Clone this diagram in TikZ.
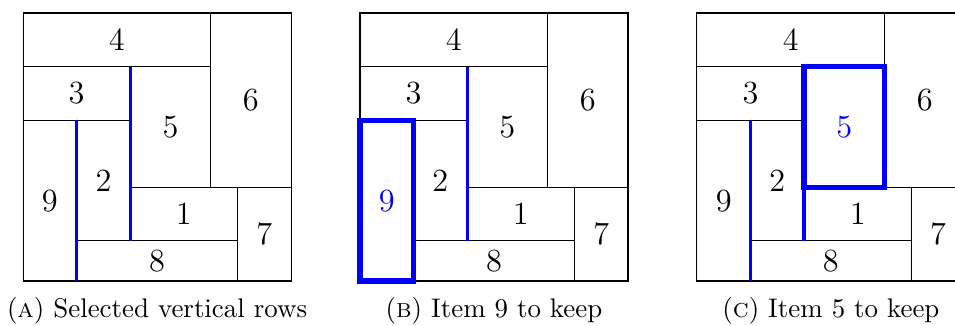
\documentclass[tikz,border=0pt]{standalone}
\usepackage{tikz}
\usetikzlibrary{calc}
\def\pcu{0.35cm}
\tikzset{
  piece/.style={draw=black, line width=0.4pt, inner sep=0pt, outer sep=0pt,
                font=\large},
  row/.style={draw=blue, line width=1.2pt},
  keep/.style={draw=blue, line width=2pt},
  subcap/.style={anchor=base, font=\normalsize},
}
% one packing: #1 = panel name, #2 = item printed in blue (0 for none)
\newcommand{\packing}[2]{%
  \foreach \n/\xa/\ya/\xb/\yb in {4/0/0/7/2, 6/7/0/10/6.5, 3/0/2/4/4, 5/4/2/7/6.5,
      9/0/4/2/10, 2/2/4/4/8.5, 1/4/6.5/8/8.5, 8/2/8.5/8/10, 7/8/6.5/10/10}{
    \ifnum\n=#2\relax\def\txtcol{blue}\else\def\txtcol{black}\fi
    \node[piece, text=\txtcol, minimum width={(\xb-\xa)*\pcu},
          minimum height={(\yb-\ya)*\pcu}] (#1-\n) at ({(\xa+\xb)/2},{(\ya+\yb)/2}) {\n};
  }%
}

\begin{document}
\begin{tikzpicture}[x=\pcu, y=-\pcu]
  \useasboundingbox (0,0) rectangle (35.63,12.16);

  % (a) selected vertical rows
  \begin{scope}[shift={(0.86,0.485)}]
    \packing{A}{0}
    \draw[row] (A-5.north west) -- (A-1.south west);
    \draw[row] (A-2.north west) -- (A-8.south west);
    \node[subcap] (capA) at (5,11.35) {(\textsc{a}) Selected vertical rows};
  \end{scope}

  % (b) item 9 kept
  \begin{scope}[shift={(13.43,0.485)}]
    \packing{B}{9}
    \draw[row] (B-5.north west) -- (B-1.south west);
    \draw[keep] (B-9.north west) rectangle (B-9.south east);
    \node[subcap] (capB) at (5,11.35) {(\textsc{b}) Item 9 to keep};
  \end{scope}

  % (c) item 5 kept
  \begin{scope}[shift={(26.0,0.485)}]
    \packing{C}{5}
    \draw[row] (C-2.north west) -- (C-8.south west);
    \draw[row] (C-5.north west) -- (C-1.south west);
    \draw[keep] (C-5.north west) rectangle (C-5.south east);
    \node[subcap] (capC) at (5,11.35) {(\textsc{c}) Item 5 to keep};
  \end{scope}
\end{tikzpicture}
\end{document}
